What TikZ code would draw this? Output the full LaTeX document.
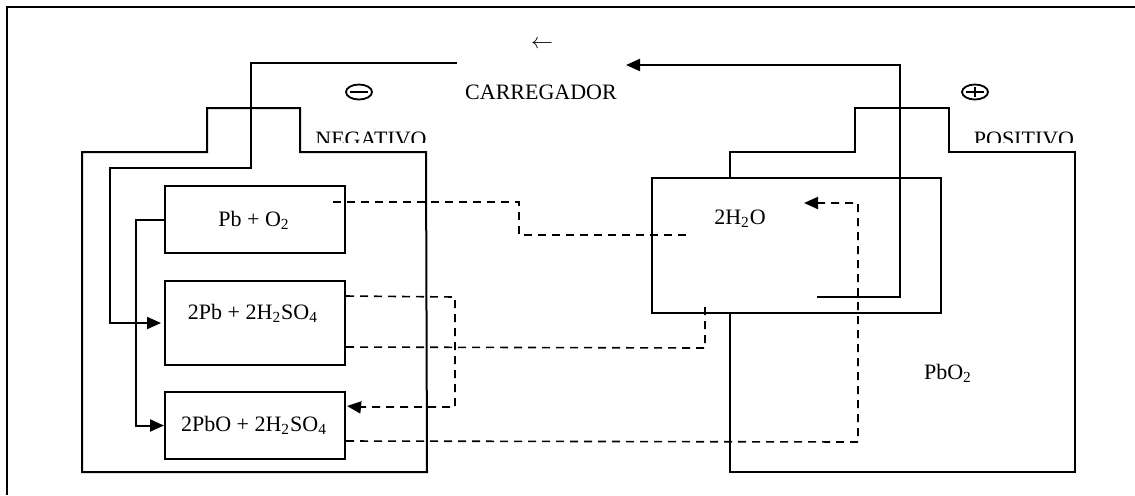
\documentclass[tikz,border=0pt]{standalone}
\usepackage{fontspec}
\setmainfont{Liberation Serif}
\usetikzlibrary{arrows.meta,calc,shapes.geometric}
\tikzset{
  lbl/.style={font=\fontsize{11}{13}\selectfont, inner sep=0pt},
  boxn/.style={draw, line width=1pt, fill=white, inner sep=0pt},
  shape line/.style={draw, line width=1pt, line join=miter},
  wire/.style={line width=1pt},
  dline/.style={line width=0.8pt, dash pattern=on 4pt off 3pt},
  tip/.style={-{Triangle[length=7pt,width=6pt]}},
  signov/.style={ellipse, draw, line width=0.9pt, minimum width=13pt, minimum height=7.5pt, inner sep=0pt}
}
\begin{document}
\begin{tikzpicture}[x=0.5pt,y=-0.5pt]
\useasboundingbox (0,0) rectangle (1135,495);
% outer frame
\draw[line width=0.9pt] (7,495) -- (7,7) -- (1135,7);

% negative electrode outline
\draw[shape line] (82,152) -- (207,152) -- (207,108) -- (300,108) -- (300,152)
  -- (426,152) -- (427,472) -- (82,472) -- cycle;
% positive electrode outline
\draw[shape line] (730,178) -- (730,152) -- (855,152) -- (855,108) -- (949,108)
  -- (949,152) -- (1075,152) -- (1075,472) -- (730,472) -- cycle;

% boxes
\node[boxn, minimum width=90pt, minimum height=33.5pt] (b1) at (255,219.5) {};
\node[boxn, minimum width=90pt, minimum height=42pt] (b2) at (255,323) {};
\node[boxn, minimum width=90pt, minimum height=33.5pt] (b3) at (255,425.5) {};
\node[boxn, minimum width=144.5pt, minimum height=67.5pt] (bw) at (796.5,245.5) {};

% texts
\node[lbl] (t1) at (254,220) {Pb + O\textsubscript{2}};
\node[lbl] (t2) at (253,313) {2Pb + 2H\textsubscript{2}SO\textsubscript{4}};
\node[lbl] (t3) at (254,425) {2PbO + 2H\textsubscript{2}SO\textsubscript{4}};
\node[lbl] (tw) at (740,219) {2H\textsubscript{2}O};
\node[lbl] (tp) at (948,373) {PbO\textsubscript{2}};
\node[lbl] (arr) at (542,44) {$\leftarrow$};
\node[lbl] (car) at (541,92) {CARREGADOR};

% minus / plus signs
\node[signov] (neg) at (359,92) {};
\draw[line width=0.9pt] ($(neg.west)+(5,0)$) -- ($(neg.east)+(-5,0)$);
\node[signov] (pos) at (975,92) {};
\draw[line width=0.9pt] ($(pos.west)+(5,0)$) -- ($(pos.east)+(-5,0)$);
\draw[line width=0.9pt] ($(pos.north)+(0,3)$) -- ($(pos.south)+(0,-3)$);

\begin{scope}
  \clip (0,0) rectangle (1135,142);
  \node[lbl, anchor=base] (tneg) at (371,146) {NEGATIVO};
  \node[lbl, anchor=base] (tpos) at (1024,146) {POSITIVO};
\end{scope}

% free ends
\coordinate (cneg) at (457,63);
\coordinate (cposA) at (817,297);
\coordinate (cposB) at (626,65);
\coordinate (d1s) at (333,202);
\coordinate (d1e) at (686,235);
\coordinate (d3e) at (705,303);
\coordinate (d4e) at (804,203);

% solid wires
\draw[wire, tip] (cneg) -- (251,63) -- (251,168) -- (110,168) |- ($(b2.west)+(-3,0)$);
\draw[wire, tip] (b1.west) -- ++(-28,0) |- (b3.west);
\draw[wire, tip] (cposA) -- (900,297) -- (900,65) -- (cposB);

% dashed connectors
\draw[dline] (d1s) -- (519,202) -- (519,235) -- (d1e);
\draw[dline] ($(b2.north east)+(0,16)$) -- (455,297) -- (455,407) -- (355,407);
\draw[wire, tip] (357,407) -- ($(b3.north east)+(1,15)$);
\draw[dline] ($(b2.north east)+(0,67)$) -- (705,348) -- (d3e);
\draw[dline] ($(b3.north east)+(0,50)$) -- (858,442) -- (858,203) -- (815,203);
\draw[wire, tip] (817,203) -- (d4e);
\end{tikzpicture}
\end{document}
